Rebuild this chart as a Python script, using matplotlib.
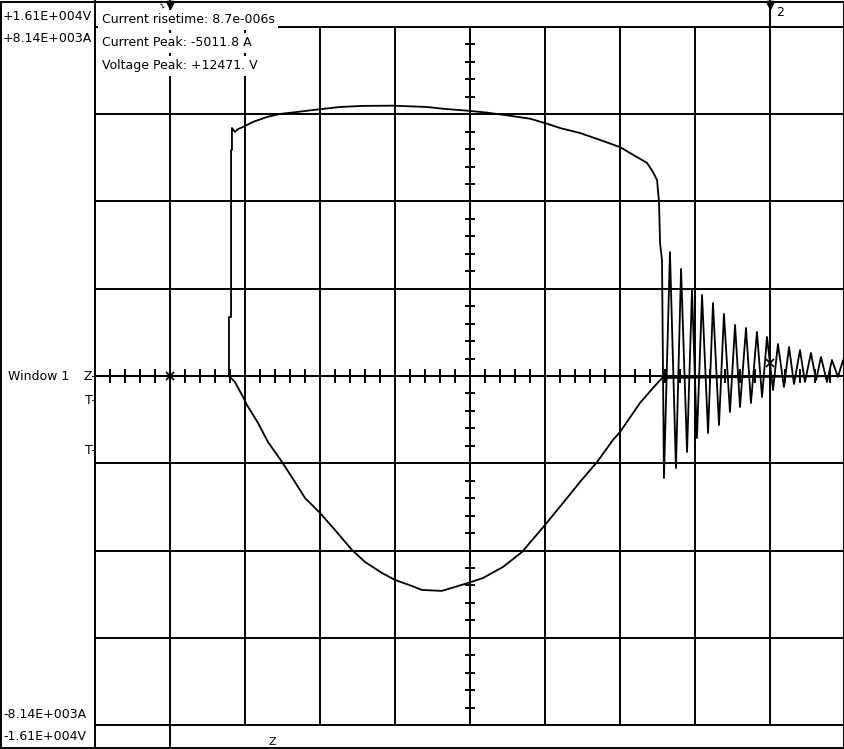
import numpy as np
import matplotlib
matplotlib.use("Agg")
import matplotlib.pyplot as plt
from matplotlib.lines import Line2D
from matplotlib.patches import Rectangle

# ---------------- data (time in microseconds, 5 us / div) ----------------
t_voltage_us = [1.9, 8.93, 8.93, 9.07, 9.07, 9.13, 9.13, 9.33, 9.53, 9.87, 10.53, 11.47,
                12.33, 13.47, 14.53, 16.33, 17.87, 19.87, 22.13, 23.33, 25.0, 26.13, 27.2,
                29.0, 30.13, 31.0, 32.33, 33.67, 35.0, 36.13, 36.8, 37.2, 37.47, 37.53,
                37.6, 37.67, 37.8,
                37.93, 38.33, 38.73, 39.07, 39.47, 39.8, 40.13, 40.47, 40.87, 41.2, 41.6,
                41.93, 42.33, 42.67, 43.0, 43.4, 43.73, 44.13, 44.47, 44.8, 45.2, 45.53,
                45.93, 46.27, 46.6, 47.0, 47.33, 47.73, 48.07, 48.4, 48.8, 49.13, 49.53,
                49.87, 50.0]
voltage_V = [0, 0, 2720, 2720, 10420, 10420, 11440, 11260, 11390, 11490, 11720, 11950,
             12090, 12180, 12270, 12410, 12460, 12471, 12410, 12320, 12230, 12150, 12050,
             11870, 11640, 11440, 11210, 10890, 10560, 10100, 9830, 9410, 9040, 8580,
             8030, 6140, 5350,
             -4705, 5720, -4244, 4936, -3506, 3967, -2860, 3737, -2629, 3367, -2260,
             2860, -1661, 2353, -1430, 2214, -1246, 2030, -969, 1799, -646, 1476,
             -507, 1338, -369, 1199, -277, 1061, -185, 876, -277, 738, -46,
             738, 400]

t_current_us = [1.9, 8.93, 9.33, 9.87, 10.13, 10.87, 11.53, 12.47, 13.33, 14.0, 15.0,
                16.0, 17.13, 18.0, 19.13, 20.0, 21.13, 21.8, 23.13, 24.87, 25.87, 27.2,
                28.47, 30.0, 31.2, 32.33, 33.47, 34.53, 35.0, 36.33, 37.2, 37.8, 50.0]
current_A = [0, 0, -140, -490, -676, -1096, -1539, -2006, -2472, -2845, -3195,
             -3591, -4058, -4337, -4594, -4757, -4897, -4990, -5012, -4827, -4711, -4454,
             -4104, -3475, -2962, -2472, -2006, -1492, -1306, -630, -280, -47, 0]

cursor_t_us = [5.0, 45.0]
cursor_marker_V = [0, 600]

v_full_V = 16100
i_full_A = 8140
us_per_div = 5
n_xdiv = 10
n_ydiv = 8

scale_labels = ["+1.61E+004V", "+8.14E+003A", "-8.14E+003A", "-1.61E+004V"]
info_lines = ["Current risetime: 8.7e-006s",
              "Current Peak: -5011.8 A",
              "Voltage Peak: +12471. V"]

# ---------------- figure / layout ----------------
W, H = 845, 749
fig = plt.figure(figsize=(W / 100, H / 100), dpi=100)
fig.patch.set_facecolor("white")
plt.rcParams["font.family"] = ["DejaVu Sans"]


def fx(x):
    return x / W


def fy(y):
    return 1 - y / H


L, R, T, B = 95, 845, 27, 725
rect = [fx(L), fy(B), (R - L) / W, (B - T) / H]
LW = 1.4
TLW = 1.3

ax = fig.add_axes(rect)
ax.set_xlim(0, us_per_div * n_xdiv)
ax.set_ylim(-v_full_V, v_full_V)
ax.set_xticks(np.arange(0, us_per_div * n_xdiv + 0.1, us_per_div))
ax.set_yticks(np.linspace(-v_full_V, v_full_V, n_ydiv + 1))
ax.grid(True, color="black", lw=LW)
ax.tick_params(length=0, labelbottom=False, labelleft=False)
for s in ax.spines.values():
    s.set_linewidth(LW)

# centre cross-hair with minor ticks
axc = fig.add_axes(rect)
axc.patch.set_visible(False)
axc.set_xlim(0, n_xdiv)
axc.set_ylim(-n_ydiv / 2, n_ydiv / 2)
axc.spines["top"].set_visible(False)
axc.spines["right"].set_visible(False)
axc.spines["bottom"].set_position(("data", 0))
axc.spines["left"].set_position(("data", n_xdiv / 2))
axc.spines["bottom"].set_linewidth(LW)
axc.spines["left"].set_linewidth(LW)
axc.set_xticks(np.arange(0, n_xdiv + 0.01, 0.2))
axc.set_yticks(np.arange(-n_ydiv / 2, n_ydiv / 2 + 0.01, 0.2))
axc.tick_params(axis="x", direction="inout", length=10, width=LW, labelbottom=False)
axc.tick_params(axis="y", direction="inout", length=7.5, width=LW, labelleft=False)

# traces
ax.plot(t_voltage_us, voltage_V, color="black", lw=TLW, zorder=5)
ax.plot(cursor_t_us, cursor_marker_V, ls="none", marker="x", ms=6, mew=1.3,
        color="black", zorder=6)
ax2 = ax.twinx()
ax2.set_ylim(-i_full_A, i_full_A)
ax2.plot(t_current_us, current_A, color="black", lw=TLW)
ax2.set_yticks([])
for s in ax2.spines.values():
    s.set_visible(False)

# ---------------- frame decorations ----------------
def fline(xs, ys, lw=LW):
    fig.add_artist(Line2D([fx(x) for x in xs], [fy(y) for y in ys],
                          color="black", lw=lw, transform=fig.transFigure))

fig.add_artist(Rectangle((fx(1), fy(748)), fx(843), 746 / H, fill=False,
                         lw=LW, edgecolor="black", transform=fig.transFigure))
fline([95, 95], [0, 749])
fline([170, 170], [0, 27])
fline([170, 170], [725, 749])
fline([770, 770], [0, 27])

for xm in (170, 770):
    fig.add_artist(Line2D([fx(xm)], [fy(5)], marker="v", ms=6, color="black",
                          transform=fig.transFigure))
fig.text(fx(776), fy(16), "2", fontsize=9, ha="left", va="baseline")
fig.text(fx(159), fy(9), "1", fontsize=5, ha="left", va="baseline", rotation=30)

# left scale labels
fig.text(fx(3), fy(20), scale_labels[0], fontsize=9, va="baseline")
fig.text(fx(3), fy(42.5), scale_labels[1], fontsize=9, va="baseline")
fig.text(fx(3), fy(717.5), scale_labels[2], fontsize=9, va="baseline")
fig.text(fx(3), fy(740), scale_labels[3], fontsize=9, va="baseline")
fig.text(fx(8), fy(380), "Window 1", fontsize=9, va="baseline")
fig.text(fx(96), fy(380), "Z-", fontsize=9, ha="right", va="baseline")
fig.text(fx(96), fy(404.5), "T-", fontsize=9, ha="right", va="baseline")
fig.text(fx(96), fy(453.5), "T-", fontsize=9, ha="right", va="baseline")
fig.text(fx(269), fy(745), "Z", fontsize=8, ha="left", va="baseline")

# info box
for i, line in enumerate(info_lines):
    fig.text(fx(102), fy(23 + 23 * i), line, fontsize=9, va="baseline",
             bbox=dict(facecolor="white", edgecolor="none", pad=2.5))

fig.savefig("out.png", dpi=100, facecolor="white")
